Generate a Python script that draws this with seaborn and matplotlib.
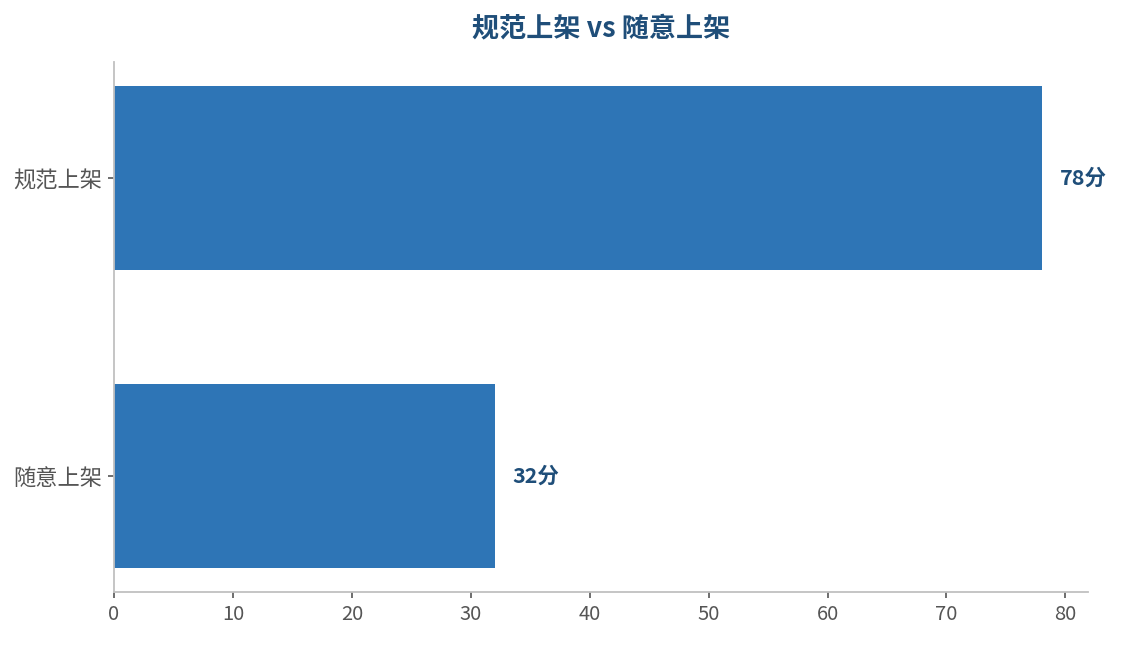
import matplotlib
matplotlib.use("Agg")
import matplotlib.pyplot as plt
import seaborn as sns
import pandas as pd

categories = ["规范上架", "随意上架"]
scores = [78, 32]
label_suffix = "分"
title = "规范上架 vs 随意上架"

sns.set_theme(style="white")
plt.rcParams['font.family'] = ['Noto Sans CJK SC', 'DejaVu Sans']

df = pd.DataFrame({"category": categories, "score": scores})

fig = plt.figure(figsize=(11.22, 6.45), dpi=100)
ax = fig.add_axes([114/1122, 1-592/645, (1088-114)/1122, (592-62)/645])

sns.barplot(data=df, y="category", x="score", orient="h", color="#2E75B6",
            saturation=1, width=0.62, linewidth=0, ax=ax)

ax.set_xlim(0, max(scores) * 1.05)
ax.set_ylim(1.39, -0.39)
ax.set_xlabel("")
ax.set_ylabel("")
ax.set_xticks(range(0, 81, 10))

for i, v in enumerate(scores):
    ax.annotate(f"{v}{label_suffix}", xy=(v, i), xytext=(13, 0), textcoords="offset points",
                va="center", ha="left", fontsize=15.5, fontweight="bold", color="#1F4E79")

for s in ["top", "right"]:
    ax.spines[s].set_visible(False)
for s in ["left", "bottom"]:
    ax.spines[s].set_color("#C0C0C0")
    ax.spines[s].set_linewidth(1.3)

ax.tick_params(axis="both", which="both", length=4.5, width=1.2, color="#555555",
               labelcolor="#555555", labelsize=14.5, bottom=True, left=True, pad=4)
ax.tick_params(axis="y", labelsize=16)

fig.text((114+1088)/2/1122, 1-28/645, title, ha="center", va="center",
         fontsize=19.5, fontweight="bold", color="#1F4E79")

fig.savefig("out.png", dpi=100)
